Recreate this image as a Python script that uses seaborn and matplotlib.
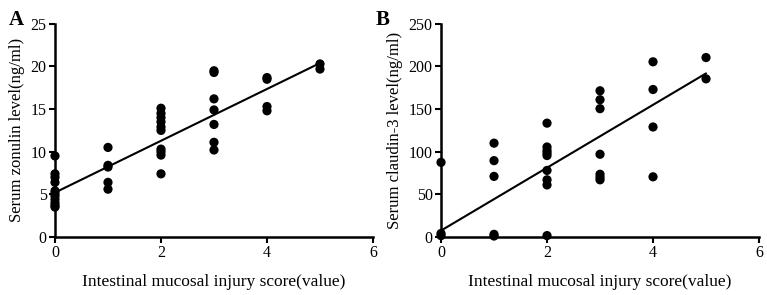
import numpy as np
import pandas as pd
import matplotlib
matplotlib.use('Agg')
import matplotlib.pyplot as plt
import seaborn as sns

# Panel A: injury score vs serum zonulin
score_a = [0] * 11 + [1] * 5 + [2] * 10 + [3] * 7 + [4] * 4 + [5] * 2
zonulin = [9.5, 7.4, 7.0, 6.4, 5.4, 5.1, 4.8, 4.4, 4.0, 3.7, 3.5,
           10.5, 8.4, 8.2, 6.4, 5.6,
           15.1, 14.5, 14.0, 13.5, 12.9, 12.5, 10.3, 10.0, 9.6, 7.4,
           19.5, 19.3, 16.2, 14.9, 13.2, 11.1, 10.2,
           18.7, 18.5, 15.3, 14.8,
           20.3, 19.7]

# Panel B: injury score vs serum claudin-3
score_b = [0] * 3 + [1] * 5 + [2] * 9 + [3] * 7 + [4] * 4 + [5] * 2
claudin = [87.5, 4.0, 1.5,
           110, 89.5, 71, 3, 1,
           133.5, 105.5, 101.5, 98.5, 95.5, 78, 67, 61, 1.5,
           171.5, 161, 150.5, 97, 73.5, 70, 67,
           205.5, 173, 129, 70.5,
           210.5, 185.5]

# regression lines as printed on the figure (intercept, slope)
fit_a = (5.2, 3.04)
fit_b = (7.4, 36.9)

xticks = [0, 2, 4, 6]


def main():
    sns.set_style("ticks", {'axes.edgecolor': 'black', 'text.color': 'black',
                            'axes.labelcolor': 'black', 'xtick.color': 'black',
                            'ytick.color': 'black'})
    plt.rcParams['font.family'] = ['Liberation Serif', 'DejaVu Serif']

    df_a = pd.DataFrame({'score': score_a, 'value': zonulin})
    df_b = pd.DataFrame({'score': score_b, 'value': claudin})

    fig = plt.figure(figsize=(7.67, 2.95), dpi=100)
    ax_a = fig.add_axes([0.0717, 0.197, 0.4146, 0.722])
    ax_b = fig.add_axes([0.5750, 0.197, 0.4146, 0.722])

    panels = [
        (ax_a, df_a, fit_a, 'Serum zonulin level(ng/ml)', 25, 5, 'A', 0.012),
        (ax_b, df_b, fit_b, 'Serum claudin-3 level(ng/ml)', 250, 50, 'B', 0.490),
    ]

    for ax, df, fit, ylab, ymax, ystep, letter, lx in panels:
        sns.scatterplot(data=df, x='score', y='value', ax=ax, s=44, color='black',
                        edgecolor='none', zorder=3, clip_on=False)
        xs = np.array([df['score'].min(), df['score'].max()])
        line = pd.DataFrame({'score': xs, 'value': fit[0] + fit[1] * xs})
        sns.lineplot(data=line, x='score', y='value', ax=ax, color='black', lw=1.5)
        ax.set_xlim(0, 6)
        ax.set_ylim(0, ymax)
        ax.set_xticks(xticks)
        ax.set_yticks(np.arange(0, ymax + 1, ystep))
        ax.set_xlabel('Intestinal mucosal injury score(value)', fontsize=12.5, labelpad=9)
        ax.set_ylabel(ylab, fontsize=12, labelpad=4)
        ax.tick_params(labelsize=11.5, width=1.5, length=4, pad=2)
        for side in ['left', 'bottom']:
            ax.spines[side].set_linewidth(1.8)
        sns.despine(ax=ax)
        fig.text(lx, 0.965, letter, fontsize=15, fontweight='bold', ha='left', va='top')

    fig.savefig('out.png', dpi=100)


if __name__ == "__main__":
    main()
